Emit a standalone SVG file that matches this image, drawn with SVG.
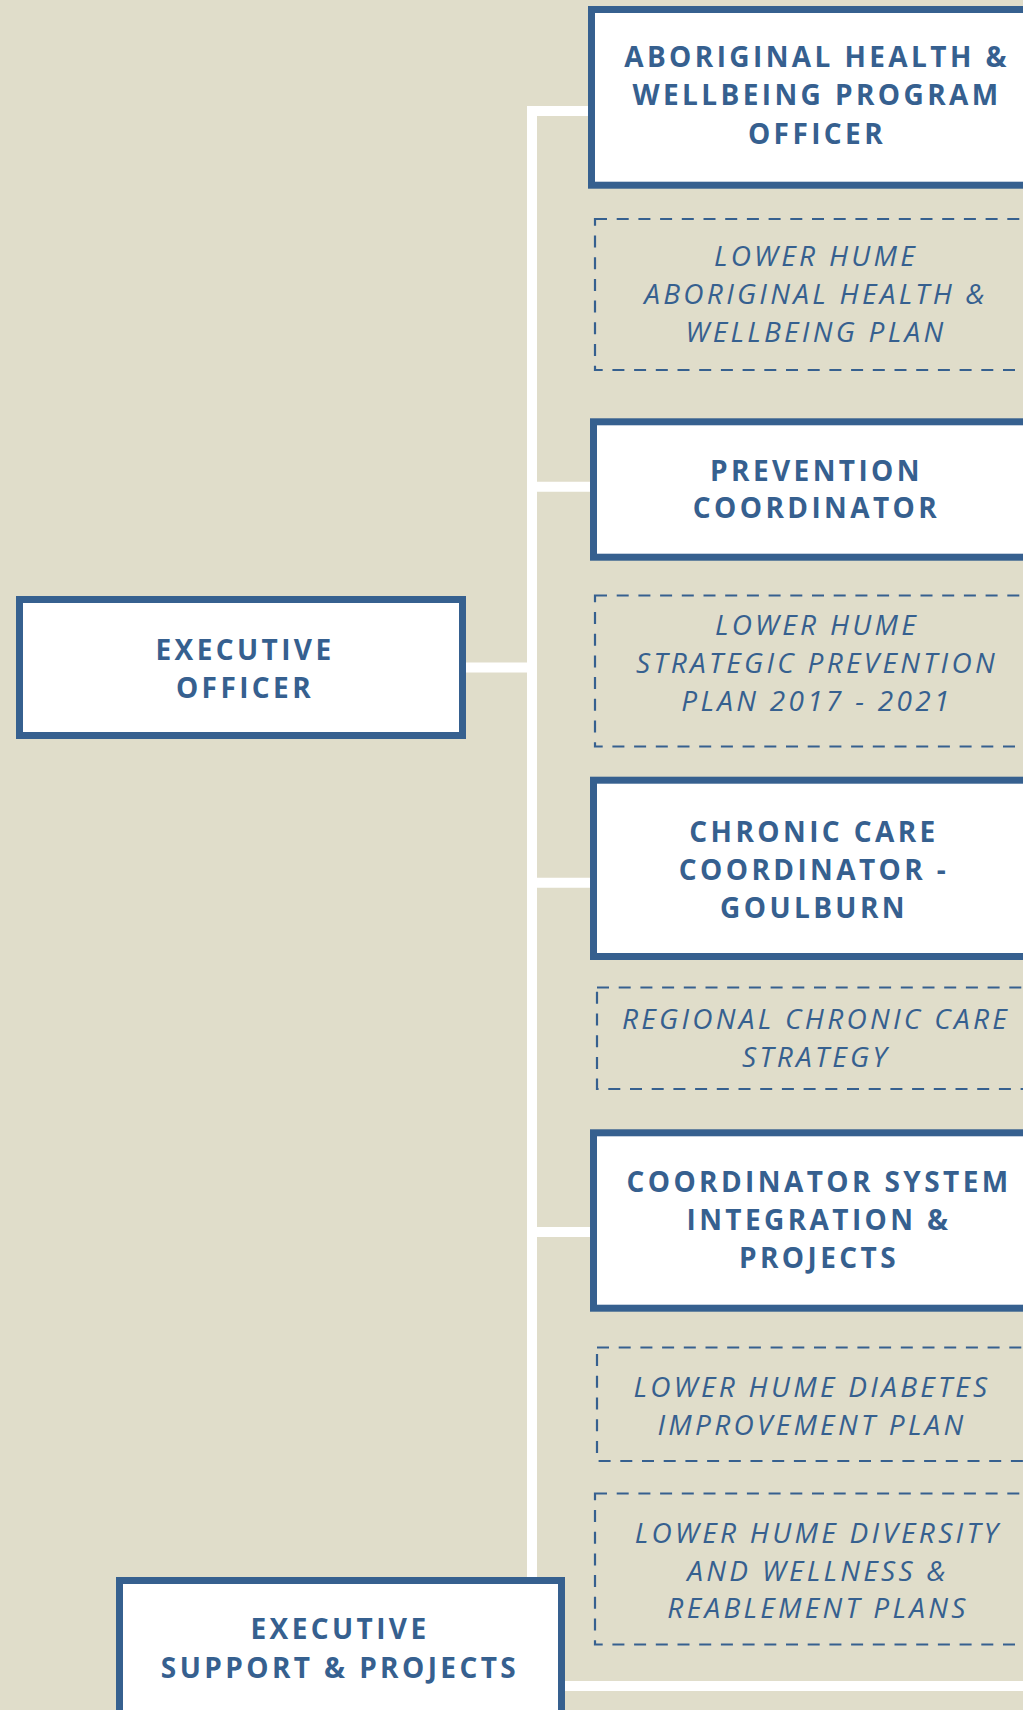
<svg xmlns="http://www.w3.org/2000/svg" width="1023" height="1710" viewBox="0 0 1023 1710">
<style>
.bg{fill:#e0ddca}
.conn{stroke:#ffffff;stroke-width:10;fill:none}
.box{fill:#ffffff;stroke:#36608f;stroke-width:7}
.plan{fill:none;stroke:#36608f;stroke-width:2.2;stroke-dasharray:12 9.7}
.t{font-family:"Open Sans","Noto Sans","Liberation Sans",sans-serif;font-size:28px;fill:#36608f;text-anchor:middle}
.b{font-weight:700;letter-spacing:3.4px}
.i{font-style:italic;font-weight:400;letter-spacing:3.3px}
</style>
<rect class="bg" x="0" y="0" width="1023" height="1710"/>
<g id="connectors">
<line class="conn" x1="532" y1="106" x2="532" y2="1691"/>
<line class="conn" x1="527" y1="111" x2="592" y2="111"/>
<line class="conn" x1="532" y1="486.7" x2="592" y2="486.7"/>
<line class="conn" x1="460" y1="667.5" x2="537" y2="667.5"/>
<line class="conn" x1="532" y1="882.7" x2="592" y2="882.7"/>
<line class="conn" x1="532" y1="1232" x2="592" y2="1232"/>
<line class="conn" x1="532" y1="1686" x2="1023" y2="1686"/>
</g>
<g id="n-aboriginal-officer">
<rect class="box" x="591.5" y="9.5" width="460" height="175.7"/>
<text class="t b" x="817" y="66.7">ABORIGINAL HEALTH &amp;</text>
<text class="t b" x="817" y="105">WELLBEING PROGRAM</text>
<text class="t b" x="817" y="144.3">OFFICER</text>
</g>
<g id="n-aboriginal-plan">
<rect class="plan" x="595" y="219" width="460" height="151"/>
<text class="t i" x="816" y="266">LOWER HUME</text>
<text class="t i" x="816" y="304">ABORIGINAL HEALTH &amp;</text>
<text class="t i" x="816" y="342">WELLBEING PLAN</text>
</g>
<g id="n-prevention">
<rect class="box" x="593.5" y="421.8" width="460" height="135.4"/>
<text class="t b" x="816.5" y="480.7">PREVENTION</text>
<text class="t b" x="816.5" y="518.3">COORDINATOR</text>
</g>
<g id="n-prevention-plan">
<rect class="plan" x="595" y="595.5" width="460" height="151"/>
<text class="t i" x="817" y="635">LOWER HUME</text>
<text class="t i" x="817" y="673.3">STRATEGIC PREVENTION</text>
<text class="t i" x="817" y="711">PLAN 2017 - 2021</text>
</g>
<g id="n-executive-officer">
<rect class="box" x="19.5" y="599.5" width="443" height="136"/>
<text class="t b" x="245" y="660">EXECUTIVE</text>
<text class="t b" x="245" y="698">OFFICER</text>
</g>
<g id="n-chronic">
<rect class="box" x="593.5" y="780.2" width="460" height="176.3"/>
<text class="t b" x="814" y="841.7">CHRONIC CARE</text>
<text class="t b" x="814" y="880">COORDINATOR -</text>
<text class="t b" x="814" y="918.3">GOULBURN</text>
</g>
<g id="n-chronic-plan">
<rect class="plan" x="597" y="987.5" width="460" height="101.5"/>
<text class="t i" x="816" y="1029">REGIONAL CHRONIC CARE</text>
<text class="t i" x="816" y="1067">STRATEGY</text>
</g>
<g id="n-coord-system">
<rect class="box" x="593.5" y="1132.8" width="460" height="175.4"/>
<text class="t b" x="819" y="1191.7">COORDINATOR SYSTEM</text>
<text class="t b" x="819" y="1230">INTEGRATION &amp;</text>
<text class="t b" x="819" y="1268">PROJECTS</text>
</g>
<g id="n-diabetes-plan">
<rect class="plan" x="597" y="1347.5" width="460" height="113.5"/>
<text class="t i" x="812" y="1396.7">LOWER HUME DIABETES</text>
<text class="t i" x="812" y="1435">IMPROVEMENT PLAN</text>
</g>
<g id="n-diversity-plan">
<rect class="plan" x="595" y="1493.5" width="460" height="151"/>
<text class="t i" x="818" y="1542.7">LOWER HUME DIVERSITY</text>
<text class="t i" x="818" y="1580.7">AND WELLNESS &amp;</text>
<text class="t i" x="818" y="1618">REABLEMENT PLANS</text>
</g>
<g id="n-exec-support">
<rect class="box" x="119.5" y="1580.5" width="442" height="200"/>
<text class="t b" x="340" y="1639">EXECUTIVE</text>
<text class="t b" x="340" y="1677.7">SUPPORT &amp; PROJECTS</text>
</g>
</svg>
